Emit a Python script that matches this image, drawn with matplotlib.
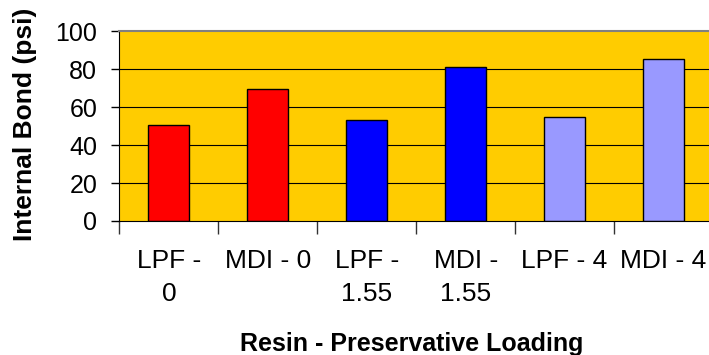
import matplotlib
matplotlib.use("Agg")
import matplotlib.pyplot as plt
import numpy as np

# data
labels = ["LPF -\n0", "MDI - 0", "LPF -\n1.55", "MDI -\n1.55", "LPF - 4", "MDI - 4"]
bond = [50.4, 69.6, 53.0, 81.0, 54.7, 85.3]
colors = ["#FF0000", "#FF0000", "#0000FF", "#0000FF", "#9999FF", "#9999FF"]

plt.rcParams["font.family"] = ["Liberation Sans", "DejaVu Sans"]

fig = plt.figure(figsize=(7.09, 3.55), dpi=100)
ax = fig.add_axes([0.1685, 0.3775, 0.837, 0.535])
ax.set_facecolor("#FFCC00")

x = np.arange(len(bond))
ax.bar(x, bond, width=0.414, color=colors, edgecolor="black", linewidth=1.0, zorder=3)

ax.set_xlim(-0.5, 5.5)
ax.set_ylim(0, 100)
ax.set_yticks([0, 20, 40, 60, 80, 100])
ax.set_xticks(np.arange(-0.5, 5.5, 1.0))
ax.set_xticklabels([])
ax.set_xticks(x, minor=True)
ax.set_xticklabels(labels, minor=True, fontsize=19, linespacing=1.5, va="top")
ax.tick_params(axis="x", which="minor", length=0, pad=20)
ax.tick_params(axis="x", which="major", length=9, width=1, color="#333333", direction="out")
ax.tick_params(axis="y", length=6, width=1, labelsize=18, pad=10)

for yv in [20, 40, 60, 80]:
    ax.axhline(yv, color="black", linewidth=0.8, zorder=1)

ax.spines["right"].set_visible(False)
ax.spines["top"].set_color("#808080")
ax.spines["top"].set_linewidth(1.5)
ax.spines["left"].set_color("black")
ax.spines["bottom"].set_color("black")
ax.spines["bottom"].set_zorder(4)

fig.text(0.0348, 0.649, "Internal Bond (psi)", rotation=90, ha="center", va="center",
         fontsize=19, fontweight="bold")
fig.text(0.58, 0.0113, "Resin - Preservative Loading", ha="center", va="baseline",
         fontsize=18, fontweight="bold")

fig.savefig("out.png", dpi=100)
